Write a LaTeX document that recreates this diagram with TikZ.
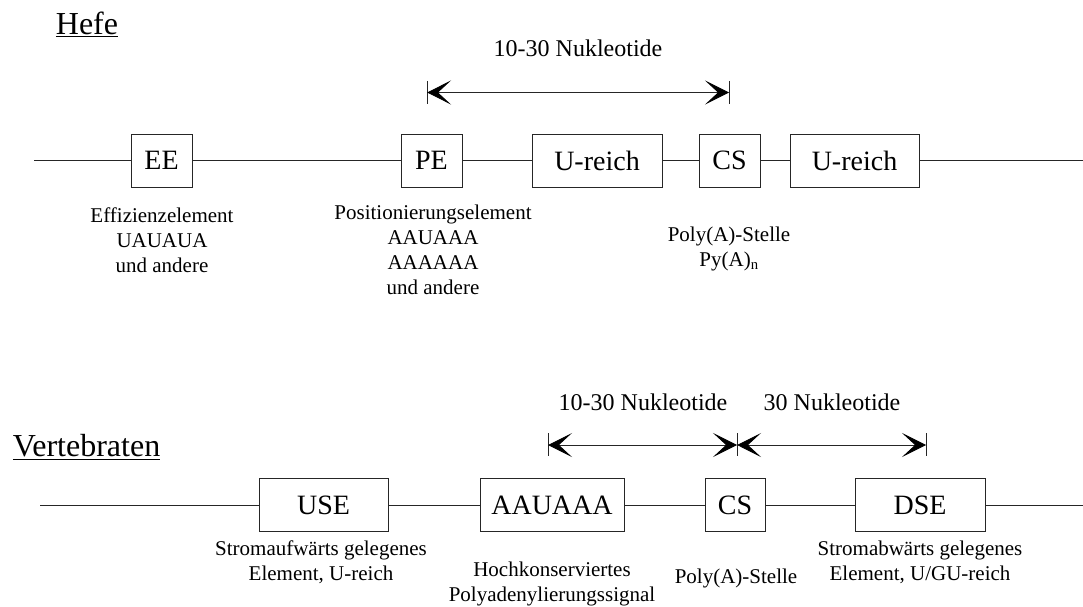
\documentclass[tikz,border=0pt]{standalone}
\usepackage{fontspec}
\setmainfont{Liberation Serif}
\usetikzlibrary{arrows.meta}
\begin{document}
\begin{tikzpicture}[x=1pt,y=-1pt,
  elem/.style={draw=black!85,line width=0.9pt,minimum height=53pt,inner sep=0pt,font=\fontsize{28}{30}\selectfont},
  wire/.style={draw=black!85,line width=0.9pt},
  lbl/.style={align=center,inner sep=0pt,font=\fontsize{21}{25}\selectfont},
  dist/.style={draw=black!85,line width=0.9pt,{Stealth[length=24pt,width=24pt,inset=13pt,black]}-{Stealth[length=24pt,width=24pt,inset=13pt,black]}},
  tick/.style={draw=black!85,line width=0.9pt},
  nlbl/.style={inner sep=0pt,font=\fontsize{24}{26}\selectfont},
  title/.style={inner sep=0pt,font=\fontsize{32}{34}\selectfont}]
\useasboundingbox (0,0) rectangle (1083,607);

% ---------- Hefe ----------
\node[title] (hefe) at (87,24) {\underline{Hefe}};
\coordinate (hs) at (34,160.5);
\coordinate (he) at (1083,160.5);
\node[elem,minimum width=61pt] (ee) at (161.5,160.5) {EE};
\node[elem,minimum width=61pt] (pe) at (431.5,160.5) {PE};
\node[elem,minimum width=130pt] (ur1) at (597,160.5) {U-reich};
\node[elem,minimum width=61pt] (cs1) at (729.5,160.5) {CS};
\node[elem,minimum width=129pt] (ur2) at (854.5,160.5) {U-reich};
\draw[wire] (hs) -- (ee.west);
\draw[wire] (ee.east) -- (pe.west);
\draw[wire] (pe.east) -- (ur1.west);
\draw[wire] (ur1.east) -- (cs1.west);
\draw[wire] (cs1.east) -- (ur2.west);
\draw[wire] (ur2.east) -- (he);

\coordinate (ta) at (427,92.5);
\coordinate (tb) at (729,92.5);
\draw[tick] (427,81) -- (427,104);
\draw[tick] (729,81) -- (729,104);
\draw[dist] (ta) -- (tb);
\node[nlbl] (n1) at (578,48) {10-30 Nukleotide};

\node[lbl] (lee) at (162,240) {Effizienzelement\\UAUAUA\\und andere};
\node[lbl] (lpe) at (433,250) {Positionierungselement\\AAUAAA\\AAAAAA\\und andere};
\node[lbl] (lcs1) at (729,249) {Poly(A)-Stelle\\Py(A)\textsubscript{n}};

% ---------- Vertebraten ----------
\node[title] (vert) at (86.5,447) {\underline{Vertebraten}};
\coordinate (vs) at (40,505);
\coordinate (ve) at (1083,505);
\node[elem,minimum width=129pt] (use) at (323.5,505) {USE};
\node[elem,minimum width=144pt] (aau) at (552,505) {AAUAAA};
\node[elem,minimum width=60pt] (cs2) at (735,505) {CS};
\node[elem,minimum width=130pt] (dse) at (920,505) {DSE};
\draw[wire] (vs) -- (use.west);
\draw[wire] (use.east) -- (aau.west);
\draw[wire] (aau.east) -- (cs2.west);
\draw[wire] (cs2.east) -- (dse.west);
\draw[wire] (dse.east) -- (ve);

\coordinate (ba) at (548,445);
\coordinate (bb) at (737,445);
\coordinate (bc) at (926,445);
\draw[tick] (548,433) -- (548,456);
\draw[tick] (737,433) -- (737,456);
\draw[tick] (926,433) -- (926,456);
\draw[dist] (ba) -- (bb);
\draw[dist] (bb) -- (bc);
\node[nlbl] (n2) at (643,402) {10-30 Nukleotide};
\node[nlbl] (n3) at (832,402) {30 Nukleotide};

\node[lbl] (luse) at (321,562.5) {Stromaufwärts gelegenes\\Element, U-reich};
\node[lbl] (laau) at (552,583.5) {Hochkonserviertes\\Polyadenylierungssignal};
\node[lbl] (lcs2) at (736,578) {Poly(A)-Stelle};
\node[lbl] (ldse) at (920,562.5) {Stromabwärts gelegenes\\Element, U/GU-reich};
\end{tikzpicture}
\end{document}
